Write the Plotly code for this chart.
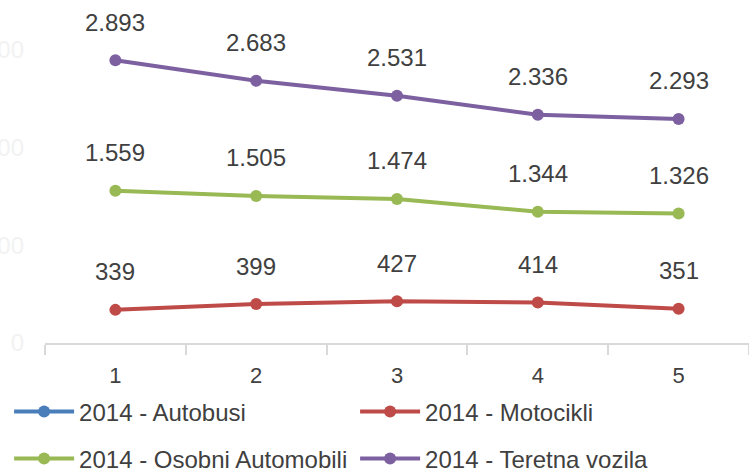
import plotly.graph_objects as go

categories = ["1", "2", "3", "4", "5"]
autobusi = [None, None, None, None, None]
motocikli = [339, 399, 427, 414, 351]
osobni = [1559, 1505, 1474, 1344, 1326]
teretna = [2893, 2683, 2531, 2336, 2293]
y_ticks = [0, 1000, 2000, 3000]

series = [
    ("2014 - Autobusi", autobusi, "#4a7ebb", "legend"),
    ("2014 - Motocikli", motocikli, "#be4b48", "legend"),
    ("2014 - Osobni Automobili", osobni, "#98b954", "legend2"),
    ("2014 - Teretna vozila", teretna, "#7d60a0", "legend2"),
]

FONT = "Liberation Sans, Arial, sans-serif"

fig = go.Figure()
annotations = []
for name, vals, color, leg in series:
    fig.add_trace(go.Scatter(
        x=categories, y=vals, name=name, mode="lines+markers",
        line=dict(color=color, width=4), marker=dict(color=color, size=12),
        legend=leg,
    ))
    for i, v in enumerate(vals):
        if v is None:
            continue
        annotations.append(dict(
            x=i, y=v, xref="x", yref="y", text=f"{v:,}".replace(",", "."),
            showarrow=False, yshift=38,
            font=dict(size=24, color="#404040", family=FONT),
        ))

legend_common = dict(
    orientation="h", xanchor="left", yanchor="middle",
    entrywidth=271, entrywidthmode="pixels", itemwidth=60,
    font=dict(size=24, color="#404040", family=FONT), bgcolor="rgba(0,0,0,0)",
)

fig.update_layout(
    width=749, height=470,
    margin=dict(l=45, r=0, t=1, b=127, autoexpand=False),
    paper_bgcolor="white", plot_bgcolor="white",
    annotations=annotations,
    legend=dict(x=-0.051, y=-0.2018, **legend_common),
    legend2=dict(x=-0.051, y=-0.339, **legend_common),
    showlegend=True,
)
fig.update_xaxes(
    type="category", tickson="boundaries", ticks="outside", ticklen=10,
    tickcolor="#d9d9d9", tickwidth=2, showline=True, linecolor="#d9d9d9", linewidth=2,
    showgrid=False, range=[-0.5, 4.5], ticklabelstandoff=12,
    tickfont=dict(size=22, color="#404040", family=FONT),
)
fig.update_yaxes(
    range=[0, 3500], tickvals=y_ticks, showgrid=False, automargin=False,
    zeroline=False, showline=False, ticklabelstandoff=20,
    tickfont=dict(size=24, color="#f2f2f2", family=FONT),
)
fig.write_html(
    "out.html",
    config={"displayModeBar": False},
    post_script="document.body.style.margin='0';document.body.style.overflow='hidden';",
)
